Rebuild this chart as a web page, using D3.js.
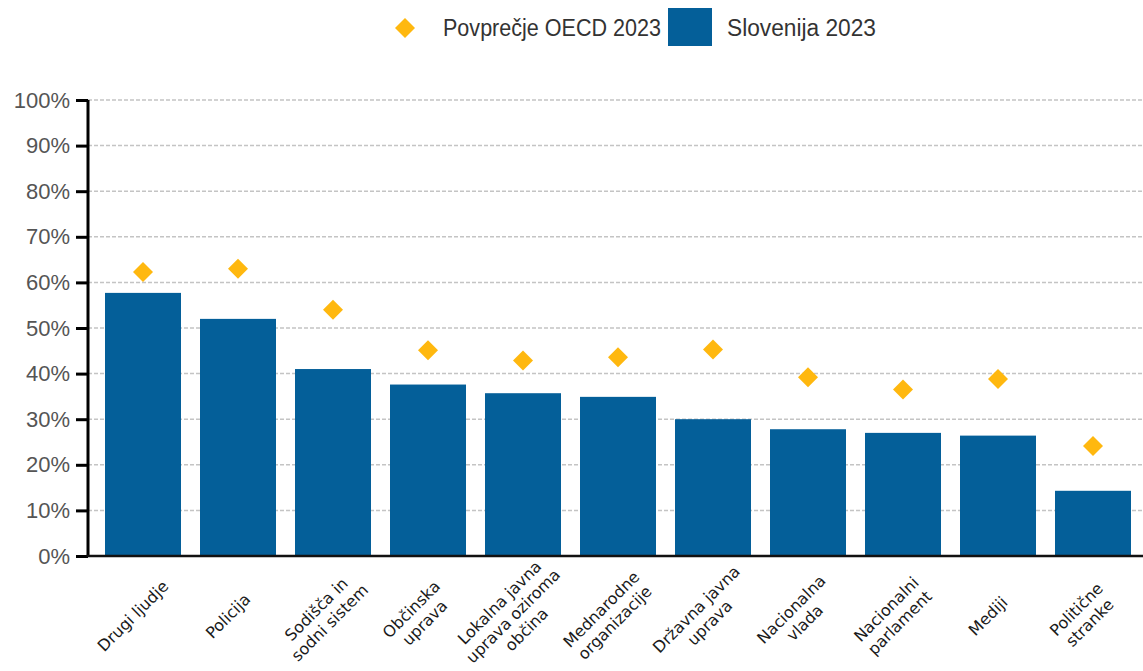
<!DOCTYPE html>
<html>
<head>
<meta charset="utf-8">
<script src="https://cdn.jsdelivr.net/npm/d3@7"></script>
<style>
  html, body { margin: 0; padding: 0; background: #fff; }
  .chart { width: 1143px; height: 671px; }
</style>
</head>
<body>
<div class="chart"></div>
<script>
// data
const categories = [
  "Drugi ljudje", "Policija", "Sodišča in\nsodni sistem", "Občinska\nuprava",
  "Lokalna javna\nuprava oziroma\nobčina", "Mednarodne\norganizacije", "Državna javna\nuprava",
  "Nacionalna\nvlada", "Nacionalni\nparlament", "Mediji", "Politične\nstranke"
];
const slovenija = [57.7, 52.0, 41.0, 37.6, 35.7, 34.9, 30.0, 27.8, 27.0, 26.4, 14.3];
const oecd = [62.3, 63.0, 54.0, 45.1, 42.9, 43.6, 45.3, 39.2, 36.5, 38.8, 24.1];
const yTicks = [0, 10, 20, 30, 40, 50, 60, 70, 80, 90, 100];
const seriesNames = ["Povprečje OECD 2023", "Slovenija 2023"];

const data = categories.map((c, i) => ({ cat: c, si: slovenija[i], oecd: oecd[i] }));

const W = 1143, H = 671;
const barColor = "#045f99";
const diamondColor = "#ffb80f";

const svg = d3.select(".chart")
  .append("svg")
  .attr("width", W)
  .attr("height", H)
  .attr("viewBox", `0 0 ${W} ${H}`);

// scales
const axisX = 88;
const x = d3.scaleBand()
  .domain(categories)
  .range([95.5, 1140.5])
  .paddingInner(0.2)
  .paddingOuter(0.1);

const y = d3.scaleLinear()
  .domain([0, 100])
  .range([556, 100]);

// gridlines
svg.append("g")
  .selectAll("line")
  .data(yTicks.filter(d => d > 0))
  .join("line")
  .attr("x1", axisX)
  .attr("x2", W)
  .attr("y1", d => y(d))
  .attr("y2", d => y(d))
  .attr("stroke", "#c4c4c4")
  .attr("stroke-width", 1.5)
  .attr("stroke-dasharray", "4,2");

// bars
svg.append("g")
  .selectAll("rect")
  .data(data)
  .join("rect")
  .attr("x", d => x(d.cat))
  .attr("y", d => y(d.si))
  .attr("width", x.bandwidth())
  .attr("height", d => y(0) - y(d.si))
  .attr("fill", barColor);

// OECD diamonds
const diamond = d3.symbol().type(d3.symbolSquare).size(200);
svg.append("g")
  .selectAll("path")
  .data(data)
  .join("path")
  .attr("d", diamond)
  .attr("transform", d => `translate(${x(d.cat) + x.bandwidth() / 2},${y(d.oecd)}) rotate(45)`)
  .attr("fill", diamondColor);

// y axis
const yAxis = svg.append("g")
  .attr("transform", `translate(${axisX},0)`)
  .call(d3.axisLeft(y)
    .tickValues(yTicks)
    .tickSize(12)
    .tickPadding(6)
    .tickFormat(d => d + "%"));
yAxis.select(".domain")
  .attr("stroke", "#000")
  .attr("stroke-width", 3)
  .attr("d", `M0,${y(100)}V${y(0)}`);
yAxis.selectAll(".tick line")
  .attr("stroke", "#000")
  .attr("stroke-width", 3);
yAxis.selectAll(".tick text")
  .attr("fill", "#555")
  .style("font-family", "'Liberation Sans', Arial, sans-serif")
  .style("font-size", "22px");

// x axis line
svg.append("line")
  .attr("x1", axisX - 1.5)
  .attr("x2", W)
  .attr("y1", y(0))
  .attr("y2", y(0))
  .attr("stroke", "#111")
  .attr("stroke-width", 2.5);

// rotated category labels, centred block under each bar
const lineH = 19;
const labels = svg.append("g")
  .selectAll("text")
  .data(categories)
  .join("text")
  .attr("transform", d => `translate(${x(d) + x.bandwidth() / 2 - 10},616) rotate(-45)`)
  .attr("text-anchor", "middle")
  .attr("fill", "#1a1a1a")
  .style("font-family", "'DejaVu Sans', Verdana, sans-serif")
  .style("font-size", "16px");
labels.each(function (d) {
  const lines = d.split("\n");
  const t = d3.select(this);
  lines.forEach((ln, i) => {
    t.append("tspan")
      .attr("x", 0)
      .attr("y", (i - (lines.length - 1) / 2) * lineH)
      .attr("dy", "0.35em")
      .text(ln);
  });
});

// legend
const legend = svg.append("g")
  .style("font-family", "'Liberation Sans', Arial, sans-serif")
  .style("font-size", "23px")
  .attr("fill", "#333");

legend.append("path")
  .attr("d", diamond)
  .attr("transform", "translate(405,28) rotate(45)")
  .attr("fill", diamondColor);
legend.append("text")
  .attr("x", 443)
  .attr("y", 36)
  .attr("textLength", 218)
  .attr("lengthAdjust", "spacingAndGlyphs")
  .text(seriesNames[0]);

legend.append("rect")
  .attr("x", 668)
  .attr("y", 8)
  .attr("width", 44)
  .attr("height", 38)
  .attr("fill", barColor);
legend.append("text")
  .attr("x", 727)
  .attr("y", 36)
  .attr("textLength", 149)
  .attr("lengthAdjust", "spacingAndGlyphs")
  .text(seriesNames[1]);
</script>
</body>
</html>
